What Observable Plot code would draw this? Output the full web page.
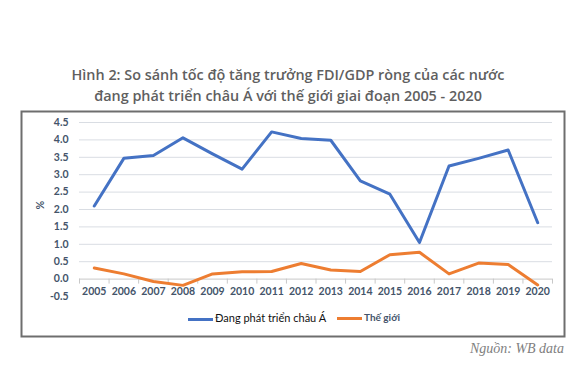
<!DOCTYPE html>
<html>
<head>
<meta charset="utf-8">
<script src="https://cdn.jsdelivr.net/npm/d3@7"></script>
<script src="https://cdn.jsdelivr.net/npm/@observablehq/plot@0.6"></script>
<style>
  html, body { margin: 0; padding: 0; background: #fff; }
  #wrap { position: relative; width: 576px; height: 368px; overflow: hidden; }
  #title { position: absolute; left: 0; top: 64px; width: 576px; text-align: center;
    font-family: "Open Sans", sans-serif; font-weight: 600; font-size: 14.4px; line-height: 21px; color: #5f5f5f; }
  #chart { position: absolute; left: 0; top: 0; }
  .leg { position: absolute; top: 311px; font-family: "Lato", sans-serif; font-size: 11px; white-space: nowrap; }
  .sw { display: inline-block; width: 25px; height: 3px; vertical-align: middle; margin-right: 2px; }
  #src { position: absolute; right: 12px; top: 341px; font-family: "Liberation Serif", serif; font-style: italic; font-size: 14px; color: #808080; }
</style>
</head>
<body>
<div id="wrap">
  <div id="title">Hình 2: So sánh tốc độ tăng trưởng FDI/GDP ròng của các nước<br>đang phát triển châu Á với thế giới giai đoạn 2005 - 2020</div>
  <div id="chart"></div>
  <div class="leg" style="left:188px;color:#111;"><span class="sw" style="background:#4472C4"></span>Đang phát triển châu Á</div>
  <div class="leg" style="left:337px;color:#44546A;font-weight:700;font-size:10px;"><span class="sw" style="background:#ED7D31"></span>Thế giới</div>
  <div id="src">Nguồn: WB data</div>
</div>
<script>
const years = [2005,2006,2007,2008,2009,2010,2011,2012,2013,2014,2015,2016,2017,2018,2019,2020];
const asia  = [2.1,3.47,3.55,4.06,3.6,3.16,4.23,4.04,3.99,2.82,2.44,1.05,3.25,3.47,3.71,1.62];
const world = [0.32,0.15,-0.07,-0.18,0.15,0.21,0.22,0.45,0.26,0.22,0.70,0.77,0.15,0.46,0.42,-0.17];
const yTicks = [-0.5,0,0.5,1,1.5,2,2.5,3,3.5,4,4.5];
const gridTicks = [0.5,1,1.5,2,2.5,3,3.5,4,4.5];
const seriesNames = ["Đang phát triển châu Á", "Thế giới"];
const colors = ["#4472C4", "#ED7D31"];

const rows = [];
years.forEach((yr, i) => {
  rows.push({year: yr, value: asia[i], series: seriesNames[0]});
  rows.push({year: yr, value: world[i], series: seriesNames[1]});
});
const boundaries = years.map(y => y - 0.5).concat([years[years.length - 1] + 0.5]);

const fmt = d => d3.format(".1f")(d).replace("−", "-");

const chart = Plot.plot({
  width: 576,
  height: 340,
  marginTop: 122,
  marginBottom: 44,
  marginLeft: 79,
  marginRight: 24,
  x: {type: "linear", domain: [boundaries[0], boundaries[boundaries.length - 1]], axis: null},
  y: {domain: [-0.5, 4.5], axis: null},
  color: {domain: seriesNames, range: colors},
  style: {fontFamily: "Lato, sans-serif", background: "none", overflow: "visible"},
  marks: [
    Plot.frame({stroke: "#6e6e6e", strokeWidth: 2, insetLeft: -58, insetRight: -12, insetTop: -11, insetBottom: -40}),
    Plot.ruleY(gridTicks, {stroke: "#d9dde3", strokeWidth: 1}),
    Plot.ruleY([0], {stroke: "#c8c8c8", strokeWidth: 1}),
    Plot.ruleX(boundaries, {x: d => d, y1: 0, y2: 0, insetBottom: -5, stroke: "#c8c8c8"}),
    Plot.axisY(yTicks, {tickSize: 0, tickPadding: 11, tickFormat: fmt, label: null, fontSize: 10.5, fontWeight: 700, fill: "#44546A"}),
    Plot.text(years, {x: d => d, y: 0, dy: 13, text: d => String(d), fontSize: 10.5, fontWeight: 700, fill: "#44546A"}),
    Plot.text(["%"], {frameAnchor: "left", dx: -39, rotate: -90, fontSize: 10.5, fontWeight: 700, fill: "#44546A"}),
    Plot.line(rows, {x: "year", y: "value", z: "series", stroke: "series", strokeWidth: 3, strokeLinejoin: "round"})
  ]
});
document.getElementById("chart").appendChild(chart);
</script>
</body>
</html>
